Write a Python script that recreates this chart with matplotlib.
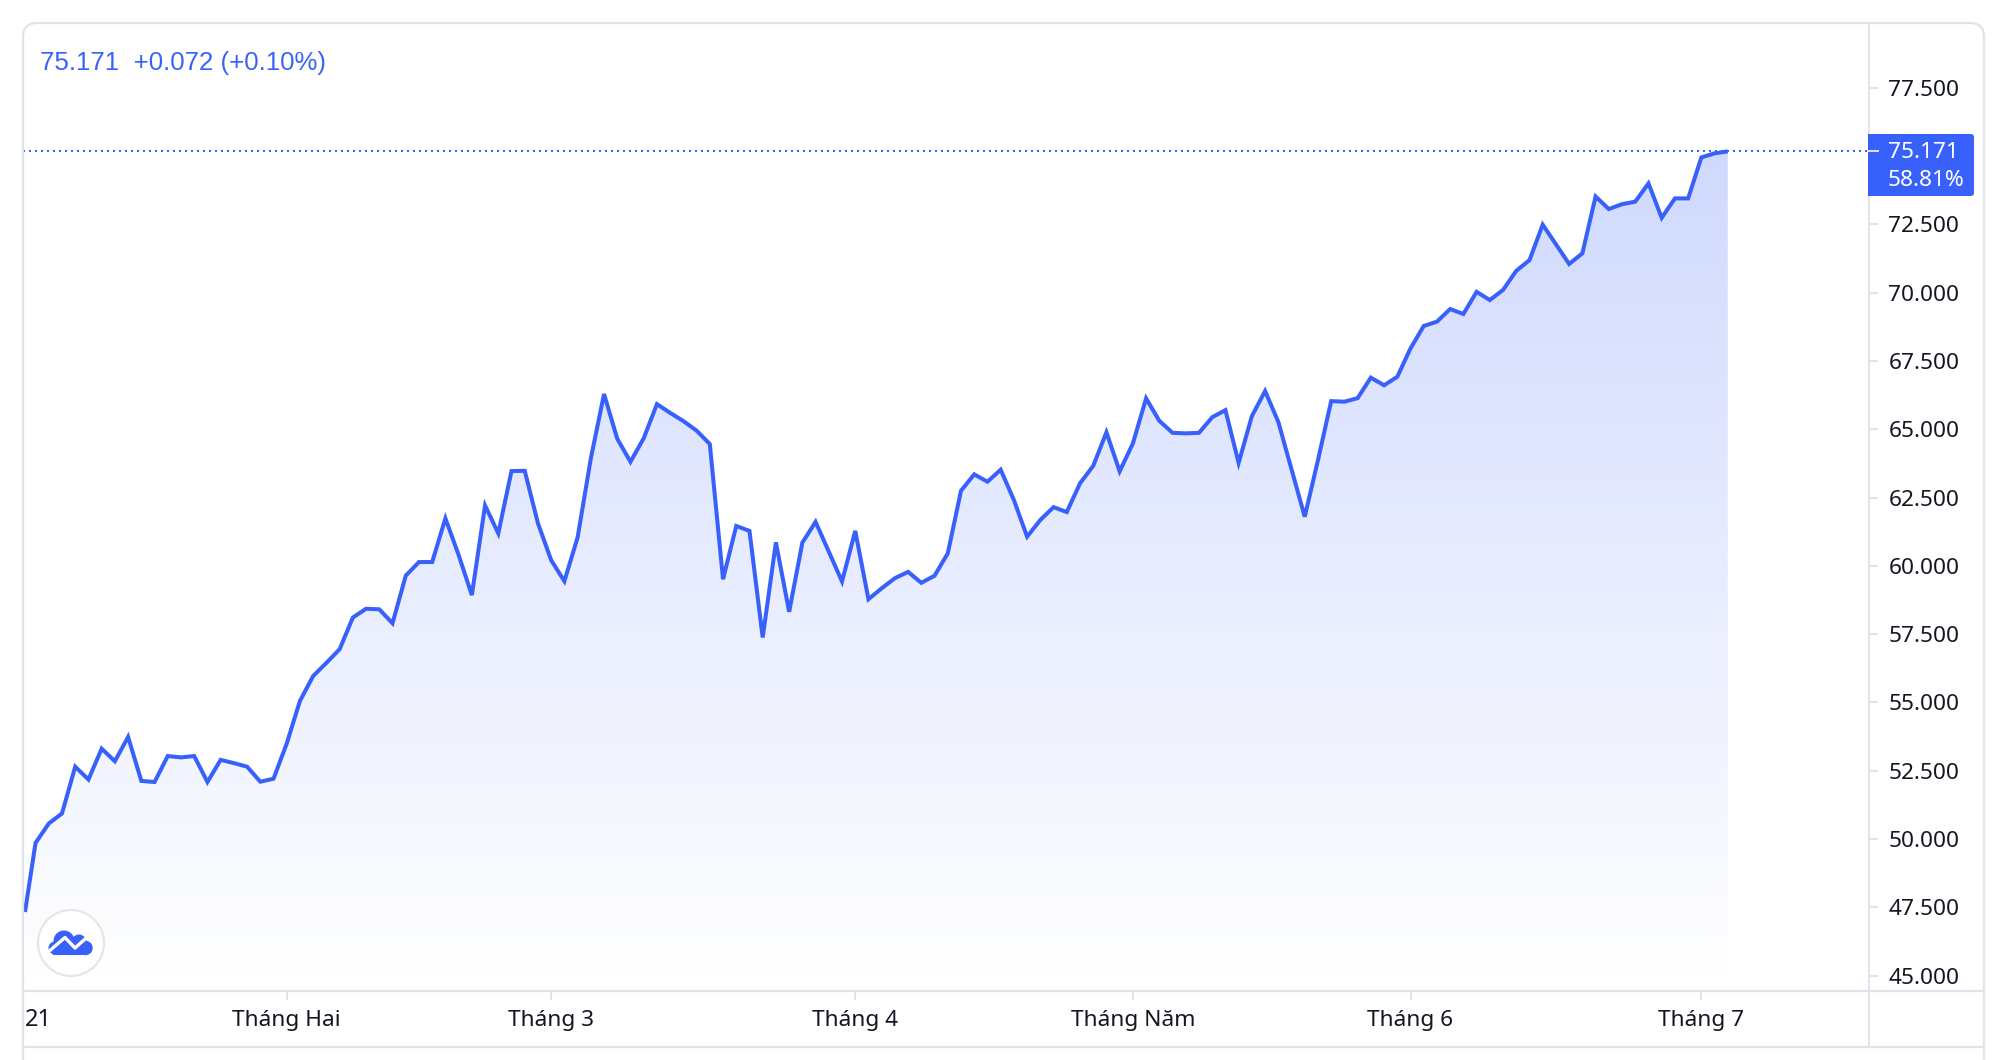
import matplotlib
matplotlib.use('Agg')
import matplotlib.pyplot as plt
import numpy as np
from matplotlib.patches import Circle, FancyBboxPatch, Polygon, Rectangle
from matplotlib.colors import LinearSegmentedColormap

# gia dong theo phien, doc tu hinh
prices = [47.33, 49.86, 50.57, 50.94, 52.65, 52.18, 53.31, 52.85, 53.74, 52.13,
          52.09, 53.04, 52.99, 53.04, 52.09, 52.90, 52.78, 52.65, 52.10, 52.21,
          53.50, 55.06, 55.97, 56.45, 56.95, 58.11, 58.43, 58.41, 57.90, 59.64,
          60.14, 60.14, 61.74, 60.40, 58.93, 62.21, 61.19, 63.47, 63.48, 61.56,
          60.21, 59.44, 61.04, 63.93, 66.29, 64.65, 63.81, 64.67, 65.92, 65.60,
          65.30, 64.95, 64.46, 59.51, 61.46, 61.28, 57.38, 60.86, 58.32, 60.85,
          61.61, 60.52, 59.43, 61.28, 58.78, 59.18, 59.55, 59.78, 59.38, 59.64,
          60.46, 62.75, 63.35, 63.08, 63.52, 62.41, 61.07, 61.68, 62.15, 61.97,
          63.02, 63.66, 64.89, 63.46, 64.48, 66.13, 65.31, 64.87, 64.85, 64.87,
          65.44, 65.70, 63.77, 65.48, 66.40, 65.27, 63.54, 61.80, 63.87, 66.03,
          66.01, 66.14, 66.89, 66.61, 66.92, 67.96, 68.78, 68.94, 69.40, 69.22,
          70.03, 69.73, 70.10, 70.80, 71.19, 72.49, 71.77, 71.05, 71.44, 73.52,
          73.06, 73.24, 73.33, 74.00, 72.74, 73.45, 73.45, 74.95, 75.10, 75.171]
# 75.000 nam sau nhan gia nen khong ve
y_ticks = [45, 47.5, 50, 52.5, 55, 57.5, 60, 62.5, 65, 67.5, 70, 72.5, 77.5]
month_pos = [20, 40, 63, 84, 105, 127]
month_labels = ['Tháng Hai', 'Tháng 3', 'Tháng 4', 'Tháng Năm', 'Tháng 6', 'Tháng 7']
last_price = '75.171'
last_pct = '58.81%'
header = '75.171  +0.072 (+0.10%)'

BLUE = '#3861fb'
GRID = '#e0e3eb'
INK = '#131722'
W, H = 1998, 1060
LEFT, RIGHT, TOP, BOTTOM = 23, 1869, 23, 991

plt.rcParams['font.family'] = ['Noto Sans', 'DejaVu Sans']
fig = plt.figure(figsize=(W / 100, H / 100), dpi=100, facecolor='white')
ax = fig.add_axes([LEFT / W, 1 - BOTTOM / H, (RIGHT - LEFT) / W, (BOTTOM - TOP) / H])

# diem dau bi cat boi mep trai
x = np.arange(len(prices), dtype=float)
x[0] = 0.2
xlim = (0.05, 139.68)
ylim = (44.44, 79.87)

# nen gradient cat theo duong gia
area = ax.fill_between(x, prices, ylim[0], color='none')
cmap = LinearSegmentedColormap.from_list('fade', [(0.22, 0.38, 0.98, 0.0), (0.22, 0.38, 0.98, 0.24)])
grad = np.linspace(1, 0, 256).reshape(-1, 1)
im = ax.imshow(grad, cmap=cmap, aspect='auto', extent=[x[0], x[-1], ylim[0], max(prices)], zorder=1)
im.set_clip_path(area.get_paths()[0], transform=ax.transData)

ax.plot(x, prices, color=BLUE, lw=2.9, solid_joinstyle='miter', solid_capstyle='butt', zorder=3)
ax.axhline(prices[-1], color=BLUE, lw=1.44, ls=(0, (1, 2)), zorder=2)

ax.set_xlim(*xlim)
ax.set_ylim(*ylim)
for s in ax.spines.values():
    s.set_visible(False)
ax.yaxis.tick_right()
ax.set_yticks(y_ticks)
ax.set_yticklabels(['%.3f' % v for v in y_ticks], fontsize=16.3, color=INK)
ax.set_xticks(month_pos)
ax.set_xticklabels(month_labels, fontsize=16.3, color=INK)
ax.tick_params(axis='y', length=6.5, width=1.4, color=GRID, pad=7.5)
ax.tick_params(axis='x', length=6.5, width=1.4, color=GRID, pad=7.5)
ax.patch.set_alpha(0)

# lop ve theo pixel: khung, nhan gia, logo
ov = fig.add_axes([0, 0, 1, 1], zorder=5)
ov.set_xlim(0, W)
ov.set_ylim(H, 0)
ov.axis('off')
ov.add_patch(FancyBboxPatch((23, 23), 1961, 1100, boxstyle='round,pad=0,rounding_size=14',
                            fc='none', ec=GRID, lw=1.6, clip_on=True))
ov.plot([23, 1984], [991, 991], color=GRID, lw=1.6)
ov.plot([23, 1984], [1047, 1047], color=GRID, lw=1.6)
ov.plot([1869, 1869], [25, 1047], color=GRID, lw=1.4)

ov.add_patch(FancyBboxPatch((1868, 134), 106, 62, boxstyle='round,pad=0,rounding_size=3',
                            fc=BLUE, ec='none', zorder=4))
ov.add_patch(Rectangle((1868, 134), 10, 62, fc=BLUE, ec='none', zorder=4))
ov.plot([1868, 1878], [151, 151], color='#dfe5fe', lw=1.4, zorder=5)
ov.text(1888, 153, last_price, color='white', fontsize=16.3, va='center', ha='left', zorder=6)
ov.text(1888, 181, last_pct, color='white', fontsize=16.3, va='center', ha='left', zorder=6)

ov.text(40, 63, header, color=BLUE, fontsize=18.6, family='Liberation Sans', va='center', ha='left')
ov.text(25, 1020, '21', color=INK, fontsize=17, fontweight='bold', va='center', ha='left')

# logo
ov.add_patch(Circle((71, 943), 33, fc='white', ec='#e6e6e6', lw=1.6))
for cx, cy, r in [(64, 941, 10.5), (55, 948, 6.5), (79, 942, 7.5), (85.5, 948, 7.2)]:
    ov.add_patch(Circle((cx, cy), r, fc=BLUE, ec='none', zorder=2))
ov.add_patch(Polygon([(53, 955), (86, 955), (86, 944), (53, 944)], fc=BLUE, ec='none', zorder=2))
ov.plot([47, 65, 75, 89], [953, 937.5, 948, 935.5], color='white', lw=2.4, zorder=3)

fig.savefig('out.png', dpi=100)
